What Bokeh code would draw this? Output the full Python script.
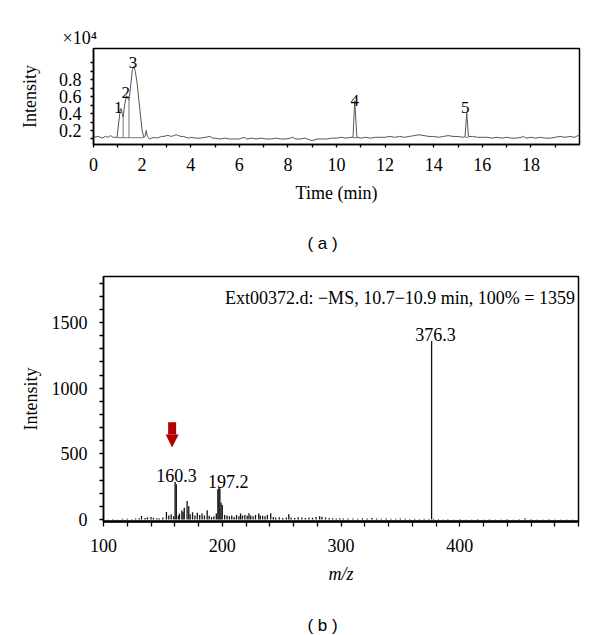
from bokeh.plotting import figure
from bokeh.models import Arrow, NormalHead, FixedTicker, Range1d, Title
from bokeh.core.properties import value
from bokeh.embed import file_html
from bokeh.resources import INLINE

SERIF = "Liberation Serif"
SANS = "Liberation Sans"

# ---------------- (a) chromatogram data (intensity in x10^4) ----------------
time_min = [0.0, 0.2, 0.35, 0.5, 0.6, 0.7, 0.8, 0.9, 0.97, 1.04, 1.1, 1.14, 1.18, 1.22, 1.28,
            1.36, 1.41, 1.46, 1.52, 1.6, 1.66, 1.72, 1.8, 1.87, 1.94, 2.0, 2.07, 2.12, 2.17,
            2.22, 2.3, 2.4, 2.5, 2.6, 2.7, 2.8, 2.9, 3.0, 3.1, 3.2, 3.3, 3.4, 3.5, 3.6, 3.7,
            3.8, 3.9, 4.0, 4.2, 4.4, 4.6, 4.8, 4.9, 5.0, 5.2, 5.4, 5.6, 5.8, 6.0, 6.2, 6.3,
            6.5, 6.7, 6.9, 7.1, 7.3, 7.5, 7.7, 7.9, 8.1, 8.2, 8.3, 8.5, 8.7, 8.9, 9.0, 9.2,
            9.4, 9.6, 9.8, 10.0, 10.2, 10.4, 10.6, 10.68, 10.75, 10.84, 11.0, 11.2, 11.4,
            11.6, 11.8, 12.0, 12.2, 12.4, 12.6, 12.8, 13.0, 13.2, 13.4, 13.6, 13.8, 14.0,
            14.2, 14.4, 14.6, 14.8, 15.0, 15.2, 15.29, 15.36, 15.43, 15.6, 15.8, 16.0, 16.2,
            16.4, 16.6, 16.8, 17.0, 17.2, 17.4, 17.6, 17.7, 17.8, 18.0, 18.2, 18.4, 18.6,
            18.8, 19.0, 19.2, 19.4, 19.6, 19.8, 20.0]
intensity = [0.12, 0.13, 0.11, 0.13, 0.12, 0.14, 0.12, 0.12, 0.12, 0.30, 0.44, 0.46, 0.40,
             0.36, 0.50, 0.61, 0.58, 0.56, 0.70, 0.92, 0.96, 0.90, 0.75, 0.55, 0.36, 0.20,
             0.12, 0.13, 0.20, 0.13, 0.10, 0.11, 0.12, 0.11, 0.12, 0.13, 0.13, 0.14, 0.14,
             0.13, 0.14, 0.15, 0.14, 0.13, 0.13, 0.12, 0.11, 0.12, 0.11, 0.11, 0.12, 0.13,
             0.11, 0.11, 0.10, 0.11, 0.10, 0.10, 0.10, 0.12, 0.10, 0.11, 0.10, 0.11, 0.10,
             0.10, 0.11, 0.10, 0.10, 0.11, 0.12, 0.10, 0.10, 0.11, 0.09, 0.08, 0.10, 0.10,
             0.10, 0.11, 0.11, 0.12, 0.11, 0.12, 0.12, 0.55, 0.12, 0.11, 0.12, 0.11, 0.12,
             0.12, 0.12, 0.13, 0.12, 0.13, 0.12, 0.13, 0.14, 0.15, 0.14, 0.13, 0.13, 0.12,
             0.13, 0.14, 0.13, 0.13, 0.12, 0.13, 0.41, 0.13, 0.13, 0.12, 0.12, 0.12, 0.11,
             0.12, 0.11, 0.12, 0.11, 0.11, 0.12, 0.13, 0.11, 0.12, 0.11, 0.12, 0.11, 0.11,
             0.12, 0.13, 0.12, 0.13, 0.12, 0.15]

# integration baseline segments and valley drop lines
base_t0 = [0.97, 10.68, 15.29]
base_t1 = [2.07, 10.84, 15.43]
base_y = [0.115, 0.115, 0.12]
drop_t = [1.22, 1.46]
drop_y0 = [0.115, 0.115]
drop_y1 = [0.36, 0.56]

peak_ids = ["1", "2", "3", "4", "5"]
peak_t = [1.02, 1.33, 1.63, 10.75, 15.3]
peak_label_y = [0.47, 0.65, 1.0, 0.55, 0.47]

a_x_ticks = [0, 2, 4, 6, 8, 10, 12, 14, 16, 18]
a_x_minor = [1, 3, 5, 7, 9, 11, 13, 15, 17, 19]
a_y_ticks = [0.2, 0.4, 0.6, 0.8]
a_y_minor = [0.1, 0.3, 0.5, 0.7, 0.9, 1.0]

# ---------------- (b) mass spectrum data ----------------
mz = [104, 108, 112, 116, 120, 124, 127, 130, 132, 135, 137, 140, 142, 145, 147, 150, 153,
      155, 157, 159, 160.3, 161.3, 163, 164, 166, 167, 168, 170.4, 171.8, 173, 175, 177, 179,
      181, 183, 185, 187.3, 189, 191, 193, 195, 196.3, 197.2, 198, 199, 200, 202, 204, 206,
      208, 210, 212, 214, 215.4, 217, 219, 221, 222.5, 224, 226, 228, 230.7, 232, 234, 236,
      238, 240.8, 243, 245, 248, 251, 254, 256, 258, 261, 264, 267, 270, 273, 276, 279, 282,
      284, 287, 290, 293, 296, 299, 302, 306, 310, 314, 318, 322, 326, 330, 334, 338, 342,
      346, 350, 354, 358, 362, 366, 370, 374, 376.3, 378, 382, 386, 390, 395, 400, 405, 410,
      415, 420, 425, 430, 435, 440, 445, 450, 455, 460, 465, 470, 475, 480, 485, 490, 495]
abundance = [3, 4, 3, 5, 6, 4, 8, 10, 27, 12, 18, 19, 14, 10, 8, 15, 57, 30, 40, 25, 288, 268,
             30, 45, 69, 60, 90, 141, 102, 40, 55, 30, 52, 35, 45, 30, 70, 28, 20, 25, 45, 230,
             240, 237, 128, 110, 35, 30, 25, 30, 20, 35, 25, 45, 30, 35, 28, 47, 30, 25, 35,
             45, 30, 28, 25, 35, 47, 20, 15, 18, 12, 15, 40, 15, 12, 18, 15, 12, 15, 14, 20,
             25, 22, 15, 12, 10, 8, 10, 8, 7, 8, 6, 10, 8, 12, 8, 6, 7, 5, 6, 7, 5, 4, 5, 4, 5,
             4, 1359, 6, 4, 3, 4, 3, 4, 3, 3, 4, 3, 4, 3, 3, 4, 3, 4, 10, 4, 3, 3, 4, 3, 3, 3, 3]

b_labels = ["160.3", "197.2", "376.3"]
b_label_x = [161.5, 205.0, 379.5]
b_label_y = [332, 286, 1408]

b_x_ticks = [100, 200, 300, 400]
b_x_minor = [120, 140, 160, 180, 220, 240, 260, 280, 320, 340, 360, 380, 420, 440, 460, 480, 500]
b_y_ticks = [0, 500, 1000, 1500]
b_y_minor = [100, 200, 300, 400, 600, 700, 800, 900, 1100, 1200, 1300, 1400, 1600, 1700, 1800]

header = ["Ext00372.d: \u2212MS, 10.7\u221210.9 min, 100% = 1359"]
header_x = [497]
header_y = [1688]

arrow_mz = 157.8
arrow_top = 740
arrow_tip = 548

# panel captions
caption_a = ["( a )"]
caption_b = ["( b )"]


def style_axes(p):
    p.grid.visible = False
    p.outline_line_color = "black"
    p.outline_line_width = 1.5
    for ax in [p.xaxis[0], p.yaxis[0]]:
        ax.axis_line_color = "black"
        ax.axis_line_width = 1.5
        ax.major_tick_line_color = "black"
        ax.minor_tick_line_color = "black"
        ax.major_tick_line_width = 1.3
        ax.minor_tick_line_width = 1.3
        ax.major_tick_in = 0
        ax.minor_tick_in = 0
        ax.major_label_text_font = SERIF
        ax.major_label_text_font_size = "18px"
        ax.major_label_text_color = "black"
        ax.axis_label_text_font = SERIF
        ax.axis_label_text_font_size = "18px"
        ax.axis_label_text_color = "black"
        ax.axis_label_text_font_style = "normal"


def caption_fig(h, text, ypos):
    c = figure(width=592, height=h, x_range=Range1d(0, 592), y_range=Range1d(0, h),
               output_backend="svg", toolbar_location=None,
               min_border_left=0, min_border_right=0, min_border_top=0, min_border_bottom=0)
    c.axis.visible = False
    c.grid.visible = False
    c.outline_line_color = None
    c.text(x=[322], y=[ypos], text=text, text_font=value(SANS), text_font_size="17px",
           text_align="center", text_baseline="middle", text_color="black")
    return c


# ---------------- figure (a) ----------------
p1 = figure(width=592, height=214, x_range=Range1d(0, 20), y_range=Range1d(0.035, 1.168),
            output_backend="svg", toolbar_location=None,
            min_border_left=93, min_border_right=13, min_border_top=48, min_border_bottom=70)
style_axes(p1)
p1.xaxis.ticker = FixedTicker(ticks=a_x_ticks, minor_ticks=a_x_minor)
p1.yaxis.ticker = FixedTicker(ticks=a_y_ticks, minor_ticks=a_y_minor)
p1.xaxis.major_tick_out = 3
p1.xaxis.minor_tick_out = 3
p1.yaxis.major_tick_out = 3
p1.yaxis.minor_tick_out = 3
p1.xaxis.major_label_standoff = 10
p1.yaxis.major_label_standoff = 9
p1.xaxis.axis_label = "Time (min)"
p1.yaxis.axis_label = "Intensity"
p1.xaxis.axis_label_standoff = 9
p1.yaxis.axis_label_standoff = 16

p1.line(time_min, intensity, line_color="#555555", line_width=1)
p1.segment(x0=base_t0, y0=base_y, x1=base_t1, y1=base_y, line_color="#777777", line_width=1)
p1.segment(x0=drop_t, y0=drop_y0, x1=drop_t, y1=drop_y1, line_color="#777777", line_width=1)
p1.text(x=peak_t, y=peak_label_y, text=peak_ids, text_font=value(SERIF),
        text_font_size="17px", text_align="center", text_baseline="alphabetic", text_color="black")

p1.add_layout(Title(text="\u00d710\u2074", align="left", offset=-31, standoff=2,
                    text_font=SERIF, text_font_size="18px", text_font_style="normal",
                    text_color="black"), "above")

pa = caption_fig(54, caption_a, 25)

# ---------------- figure (b) ----------------
p2 = figure(width=592, height=333, x_range=Range1d(100, 500), y_range=Range1d(-15, 1851),
            output_backend="svg", toolbar_location=None,
            min_border_left=103, min_border_right=14, min_border_top=8, min_border_bottom=80)
style_axes(p2)
p2.xaxis.ticker = FixedTicker(ticks=b_x_ticks, minor_ticks=b_x_minor)
p2.yaxis.ticker = FixedTicker(ticks=b_y_ticks, minor_ticks=b_y_minor)
p2.xaxis.major_tick_out = 5
p2.xaxis.minor_tick_out = 5
p2.yaxis.major_tick_out = 4
p2.yaxis.minor_tick_out = 4
p2.xaxis.major_label_standoff = 12
p2.yaxis.major_label_standoff = 12
p2.xaxis.axis_label = "m/z"
p2.xaxis.axis_label_text_font_style = "italic"
p2.yaxis.axis_label = "Intensity"
p2.xaxis.axis_label_standoff = 9
p2.yaxis.axis_label_standoff = 8
p2.xaxis.axis_line_width = 2.5

zeros = [0] * len(mz)
p2.segment(x0=mz, y0=zeros, x1=mz, y1=abundance, line_color="#111111", line_width=1.3)
p2.text(x=b_label_x, y=b_label_y, text=b_labels, text_font=value(SERIF),
        text_font_size="18px", text_align="center", text_baseline="alphabetic", text_color="black")
p2.text(x=header_x, y=header_y, text=header, text_font=value(SERIF),
        text_font_size="18px", text_align="right", text_baseline="alphabetic", text_color="black")
red = "#b30000"
p2.add_layout(Arrow(end=NormalHead(size=13, fill_color=red, line_color=red, line_width=0),
                    x_start=arrow_mz, y_start=arrow_top, x_end=arrow_mz, y_end=arrow_tip,
                    line_color=red, line_width=8))

pb = caption_fig(33, caption_b, 9)

with open("out.html", "w") as f:
    f.write(file_html([p1, pa, p2, pb], INLINE))
